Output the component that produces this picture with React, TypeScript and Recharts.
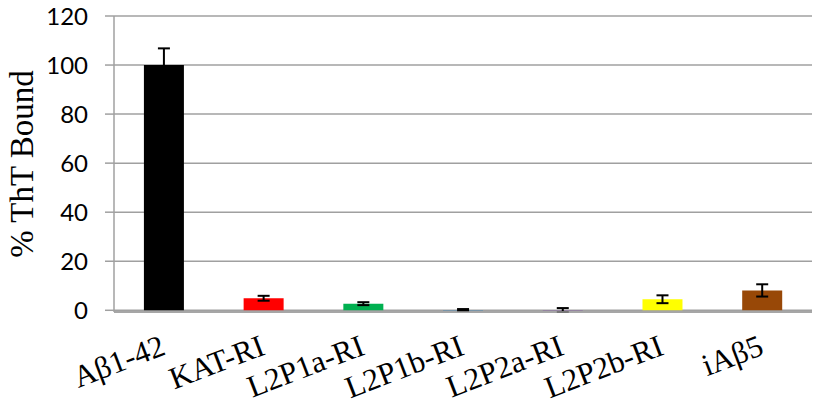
import {
  Bar,
  BarChart,
  CartesianGrid,
  Cell,
  ErrorBar,
  XAxis,
  YAxis,
} from "recharts";

// ThT binding per peptide, relative to Aβ1-42
const peptides = ["Aβ1-42", "KAT-RI", "L2P1a-RI", "L2P1b-RI", "L2P2a-RI", "L2P2b-RI", "iAβ5"];
const bound = [100, 4.9, 2.7, 0.1, 0.1, 4.5, 8.1];
const errors = [6.8, 1.0, 0.6, 0.4, 0.8, 1.6, 2.5];
const barColors = ["#000000", "#ff0000", "#00b050", "#0070c0", "#7030a0", "#ffff00", "#984807"];
const yTicks = [0, 20, 40, 60, 80, 100, 120];

const rows = peptides.map((name, i) => ({ name, bound: bound[i], err: errors[i] }));

const GRID = "#a0a0a0";
const SERIF = "'Liberation Serif', 'Times New Roman', serif";

const PeptideTick = ({ x, y, payload }: any) => (
  <text
    transform={`translate(${x + 3},${y + 42}) rotate(-21)`}
    textAnchor="end"
    style={{ fontFamily: SERIF, fontSize: 31 }}
    fill="#000"
  >
    {payload.value}
  </text>
);

export default function App() {
  return (
    <div style={{ position: "absolute", left: 0, top: 0, width: 815, height: 404, background: "#fff" }}>
      <BarChart
        width={815}
        height={404}
        data={rows}
        margin={{ top: 16, right: 3, left: 0, bottom: 0 }}
        barCategoryGap="30%"
      >
        <CartesianGrid vertical={false} stroke={GRID} strokeWidth={1.5} />
        <XAxis
          dataKey="name"
          height={92}
          interval={0}
          axisLine={{ stroke: GRID, strokeWidth: 1.5 }}
          tickLine={false}
          tickSize={0}
          tickMargin={0}
          tick={<PeptideTick />}
        />
        <YAxis
          width={114}
          domain={[0, 120]}
          ticks={yTicks}
          interval={0}
          axisLine={{ stroke: GRID, strokeWidth: 1.5 }}
          tickLine={{ stroke: GRID, strokeWidth: 1.5 }}
          tickSize={9}
          tickMargin={17}
          tick={{ fontFamily: "Lato, sans-serif", fontSize: 24, fill: "#000" }}
        />
        <Bar dataKey="bound" isAnimationActive={false}>
          {rows.map((r, i) => (
            <Cell key={r.name} fill={barColors[i]} />
          ))}
          <ErrorBar dataKey="err" stroke="#000" strokeWidth={2} width={6} />
        </Bar>
      </BarChart>
      {/* y-axis title drawn on top of the chart */}
      <svg width={50} height={404} style={{ position: "absolute", left: 0, top: 0 }}>
        <text
          transform="translate(33,164) rotate(-90)"
          textAnchor="middle"
          style={{ fontFamily: SERIF, fontSize: 33 }}
          fill="#000"
        >
          % ThT Bound
        </text>
      </svg>
    </div>
  );
}
